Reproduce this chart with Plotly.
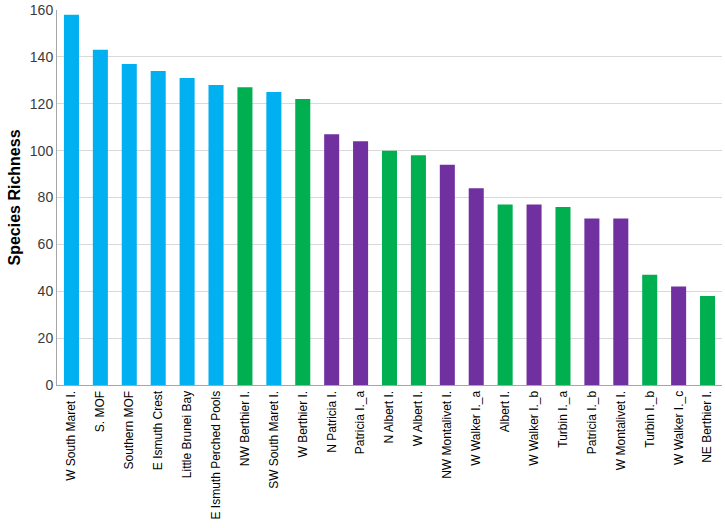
import plotly.graph_objects as go

sites = ["W South Maret I.", "S. MOF", "Southern MOF", "E Ismuth Crest", "Little Brunei Bay",
         "E Ismuth Perched Pools", "NW Berthier I.", "SW South Maret I.", "W Berthier I.",
         "N Patricia I.", "Patricia I._a", "N Albert I.", "W Albert I.", "NW Montalivet I.",
         "W Walker I._a", "Albert I.", "W Walker I._b", "Turbin I._a", "Patricia I._b",
         "W Montalivet I.", "Turbin I._b", "W Walker I._c", "NE Berthier I."]
richness = [158, 143, 137, 134, 131, 128, 127, 125, 122, 107, 104, 100, 98, 94, 84, 77, 77, 76, 71, 71, 47, 42, 38]
groups = ["B", "B", "B", "B", "B", "B", "G", "B", "G", "P", "P", "G", "G", "P", "P", "G", "P", "G", "P", "P", "G", "P", "G"]
y_ticks = [0, 20, 40, 60, 80, 100, 120, 140, 160]

palette = {"B": "#00B0F0", "G": "#00B050", "P": "#7030A0"}
colors = [palette[g] for g in groups]

fig = go.Figure(go.Bar(x=sites, y=richness, marker=dict(color=colors, line=dict(width=0)),
                       showlegend=False))
fig.update_layout(
    width=725, height=528,
    margin=dict(l=57, r=3, t=10, b=143),
    paper_bgcolor="white", plot_bgcolor="white",
    bargap=0.48,
    font=dict(family="Liberation Sans, Arial", color="#000000"),
)
fig.update_xaxes(tickangle=-90, tickfont=dict(size=12, family="Liberation Sans, Arial", color="#000"),
                 showline=True, linecolor="#A6A6A6", linewidth=1, ticks="", showgrid=False,
                 automargin=False, ticklabeloverflow="allow")
fig.update_yaxes(range=[0, 160], tickvals=y_ticks, tickfont=dict(size=14, color="#3a3a3a"),
                 showgrid=True, gridcolor="#D9D9D9", gridwidth=1, showline=True,
                 linecolor="#A6A6A6", linewidth=1, zeroline=False, ticks="", automargin=False,
                 ticklabeloverflow="allow",
                 title=dict(text="<b>Species Richness</b>", font=dict(size=16, color="#000"), standoff=5))
fig.write_html("out.html", config={"displayModeBar": False},
               post_script="document.body.style.margin='0';")
